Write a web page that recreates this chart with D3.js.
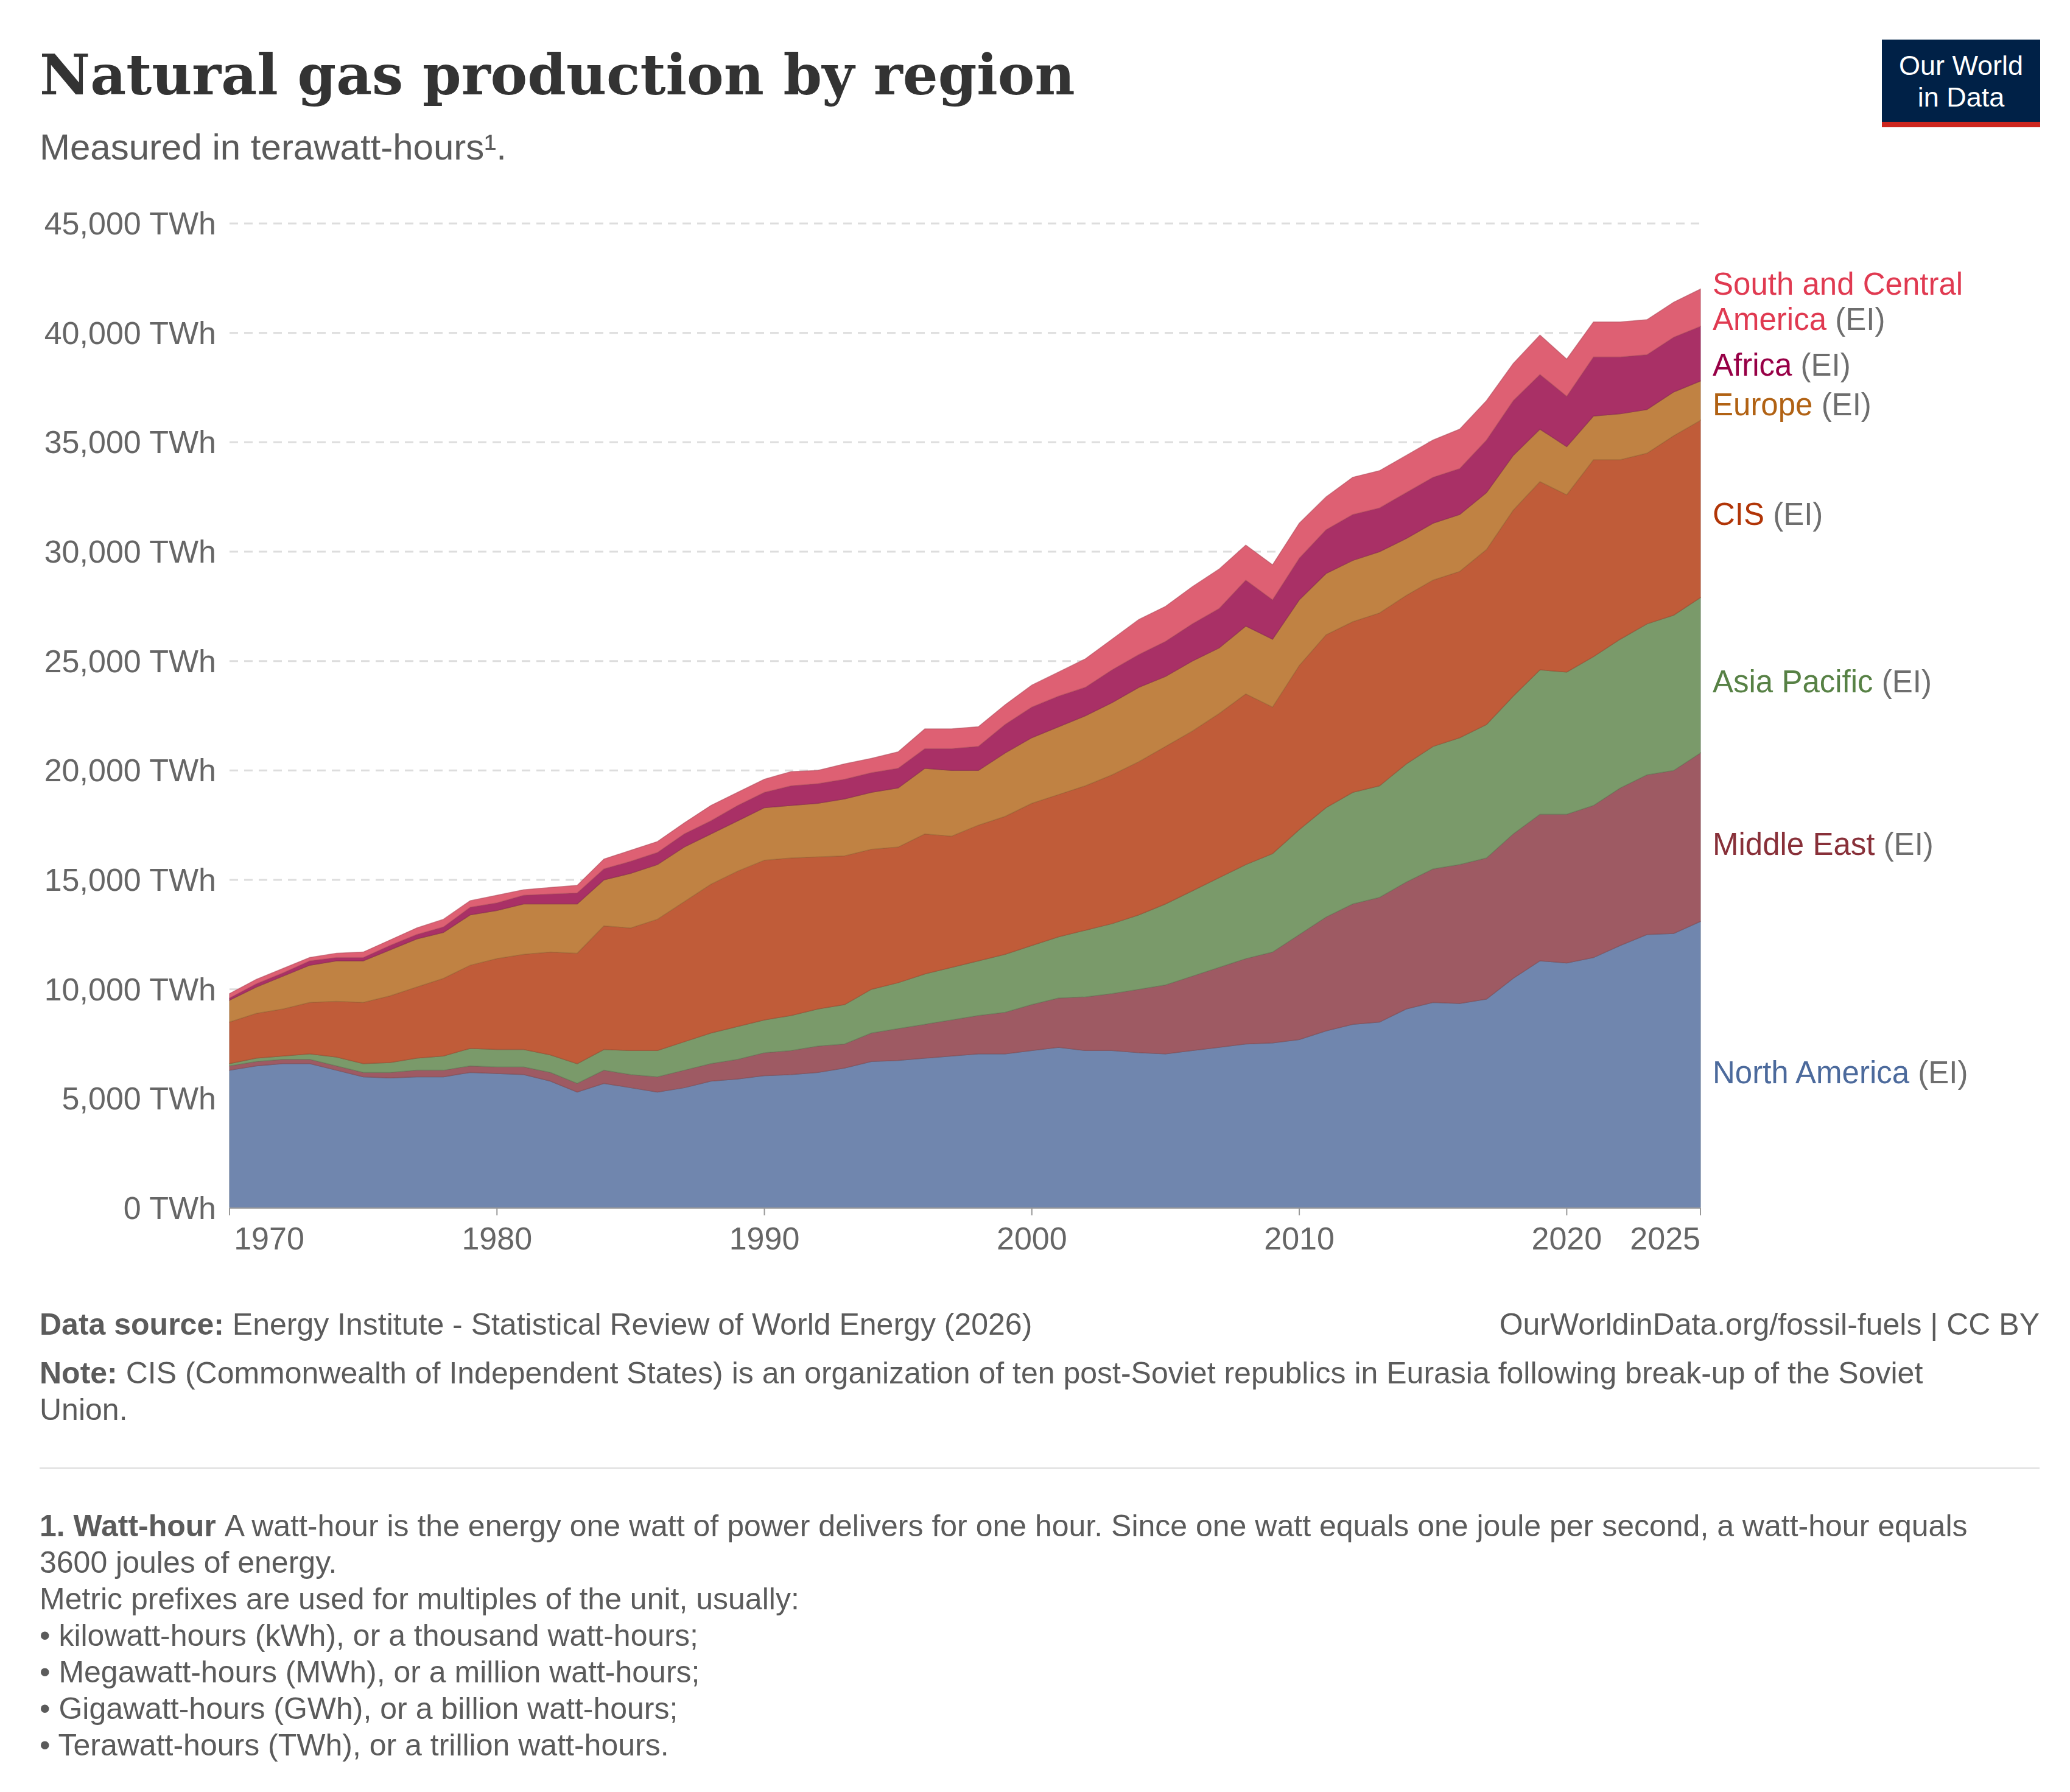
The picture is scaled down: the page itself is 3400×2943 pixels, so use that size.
<!DOCTYPE html>
<html><head><meta charset="utf-8">
<script src="https://cdn.jsdelivr.net/npm/d3@7"></script>
<style>body{margin:0;background:#fff}svg{display:block}</style>
</head><body>
<svg id="c" width="3400" height="2943"></svg>
<script>
const years = d3.range(1970, 2026);
// Upper edge of each stacked layer (thousand TWh)
const northAmericaTop = [6.3,6.5,6.6,6.6,6.3,6.0,5.95,6.0,6.0,6.2,6.15,6.1,5.8,5.3,5.7,5.5,5.3,5.5,5.8,5.9,6.05,6.1,6.2,6.4,6.7,6.75,6.85,6.95,7.05,7.05,7.2,7.35,7.2,7.2,7.1,7.05,7.2,7.35,7.5,7.55,7.7,8.1,8.4,8.5,9.1,9.4,9.35,9.55,10.5,11.3,11.2,11.45,12.0,12.5,12.55,13.1];
const middleEastTop = [6.5,6.7,6.8,6.8,6.5,6.2,6.2,6.3,6.3,6.5,6.45,6.45,6.2,5.7,6.3,6.1,6.0,6.3,6.6,6.8,7.1,7.2,7.4,7.5,8.0,8.2,8.4,8.6,8.8,8.95,9.3,9.6,9.65,9.8,10.0,10.2,10.6,11.0,11.4,11.7,12.5,13.3,13.9,14.2,14.9,15.5,15.7,16.0,17.1,18.0,18.0,18.4,19.2,19.8,20.0,20.8];
const asiaPacificTop = [6.6,6.85,6.95,7.05,6.9,6.6,6.65,6.85,6.95,7.3,7.25,7.25,7.0,6.6,7.25,7.2,7.2,7.6,8.0,8.3,8.6,8.8,9.1,9.3,10.0,10.3,10.7,11.0,11.3,11.6,12.0,12.4,12.7,13.0,13.4,13.9,14.5,15.1,15.7,16.2,17.3,18.3,19.0,19.3,20.3,21.1,21.5,22.1,23.4,24.6,24.5,25.2,26.0,26.7,27.1,27.9];
const cisTop = [8.5,8.9,9.1,9.4,9.45,9.4,9.7,10.1,10.5,11.1,11.4,11.6,11.7,11.65,12.9,12.8,13.2,14.0,14.8,15.4,15.9,16.0,16.05,16.1,16.4,16.5,17.1,17.0,17.5,17.9,18.5,18.9,19.3,19.8,20.4,21.1,21.8,22.6,23.5,22.9,24.8,26.2,26.8,27.2,28.0,28.7,29.1,30.1,31.9,33.2,32.6,34.2,34.2,34.5,35.3,36.0];
const europeTop = [9.5,10.1,10.6,11.1,11.3,11.3,11.8,12.3,12.6,13.4,13.6,13.9,13.9,13.9,15.0,15.3,15.7,16.5,17.1,17.7,18.3,18.4,18.5,18.7,19.0,19.2,20.1,20.0,20.0,20.8,21.5,22.0,22.5,23.1,23.8,24.3,25.0,25.6,26.6,26.0,27.8,29.0,29.6,30.0,30.6,31.3,31.7,32.7,34.4,35.6,34.8,36.2,36.3,36.5,37.3,37.8];
const africaTop = [9.6,10.25,10.75,11.3,11.45,11.45,12.0,12.5,12.85,13.75,13.95,14.3,14.35,14.4,15.5,15.85,16.25,17.1,17.7,18.4,19.0,19.3,19.4,19.6,19.9,20.1,21.0,21.0,21.1,22.1,22.9,23.4,23.8,24.6,25.3,25.9,26.7,27.4,28.7,27.8,29.7,31.0,31.7,32.0,32.7,33.4,33.8,35.1,36.9,38.1,37.1,38.9,38.9,39.0,39.8,40.3];
const southCentralAmericaTop = [9.8,10.45,10.95,11.45,11.65,11.7,12.25,12.8,13.2,14.05,14.3,14.55,14.65,14.75,15.95,16.35,16.75,17.6,18.4,19.0,19.6,19.95,20.0,20.3,20.55,20.85,21.9,21.9,22.0,23.0,23.9,24.5,25.1,26.0,26.9,27.5,28.4,29.2,30.3,29.4,31.3,32.5,33.4,33.7,34.4,35.1,35.6,36.9,38.6,39.9,38.8,40.5,40.5,40.6,41.4,42.0];
const seriesNames = ["North America","Middle East","Asia Pacific","CIS","Europe","Africa","South and Central America"];
const yTicks = [0,5000,10000,15000,20000,25000,30000,35000,40000,45000];
const xTicks = [1970,1980,1990,2000,2010,2020,2025];

const tops = [northAmericaTop,middleEastTop,asiaPacificTop,cisTop,europeTop,africaTop,southCentralAmericaTop];
const fills = ["#7086ae","#9e5a63","#7a9a6a","#c05c39","#c08243","#a93066","#de6073"];
const labelCols = ["#4c6a9c","#883039","#578145","#b13507","#b16214","#970046","#e03a51"];
const SANS = "Liberation Sans, Arial, sans-serif";

const svg = d3.select("#c");
const L=377, R=2793, T=367, B=1984;
const x = d3.scaleLinear().domain([1970,2025]).range([L,R]);
const y = d3.scaleLinear().domain([0,45000]).range([B,T]);

// header
svg.append("text").attr("x",65).attr("y",155).attr("font-family","DejaVu Serif, serif").attr("font-weight","bold").attr("font-size",91).attr("fill","#333").text("Natural gas production by region");
svg.append("text").attr("x",65).attr("y",262).attr("font-family",SANS).attr("font-size",60).attr("fill","#5b5b5b").text("Measured in terawatt-hours¹.");
svg.append("rect").attr("x",3091).attr("y",65).attr("width",260).attr("height",144).attr("fill","#002147");
svg.append("rect").attr("x",3091).attr("y",200).attr("width",260).attr("height",9).attr("fill","#ce261e");
svg.append("text").attr("x",3221).attr("y",123).attr("text-anchor","middle").attr("font-family",SANS).attr("font-size",45).attr("fill","#fff").text("Our World");
svg.append("text").attr("x",3221).attr("y",175).attr("text-anchor","middle").attr("font-family",SANS).attr("font-size",45).attr("fill","#fff").text("in Data");

// grid + y labels
yTicks.forEach(v=>{
  if(v>0) svg.append("line").attr("x1",L).attr("x2",R).attr("y1",y(v)).attr("y2",y(v)).attr("stroke","#ddd").attr("stroke-width",3).attr("stroke-dasharray","14,10");
  svg.append("text").attr("x",355).attr("y",y(v)+18).attr("text-anchor","end").attr("font-family",SANS).attr("font-size",52).attr("fill","#666").text(d3.format(",")(v)+" TWh");
});

// areas
const area = d3.area().x((d,i)=>x(years[i])).y0(d=>y(d[0]*1000)).y1(d=>y(d[1]*1000));
tops.forEach((t,k)=>{
  const data = t.map((v,i)=>[k===0?0:tops[k-1][i], v]);
  svg.append("path").datum(data).attr("d",area).attr("fill",fills[k]).attr("stroke",d3.color(fills[k]).darker(0.6)).attr("stroke-width",1.5).attr("stroke-opacity",0.6);
});

// x axis
svg.append("line").attr("x1",L).attr("x2",R).attr("y1",B).attr("y2",B).attr("stroke","#999").attr("stroke-width",2);
xTicks.forEach(t=>{
  svg.append("line").attr("x1",x(t)).attr("x2",x(t)).attr("y1",B).attr("y2",B+12).attr("stroke","#999").attr("stroke-width",2);
  svg.append("text").attr("x",t===1970?x(t)+65:x(t)).attr("y",B+68).attr("text-anchor",t===2025?"end":"middle").attr("font-family",SANS).attr("font-size",52).attr("fill","#666").text(t);
});

// right labels
const labelY = [[1762],[1387],[1120],[845],[665],[600],[467,525]];
const labelLines = [["North America"],["Middle East"],["Asia Pacific"],["CIS"],["Europe"],["Africa"],["South and Central","America"]];
labelLines.forEach((lines,k)=>{
  lines.forEach((ln,j)=>{
    const t = svg.append("text").attr("x",2813).attr("y",labelY[k][j]+17).attr("font-family",SANS).attr("font-size",51);
    t.append("tspan").attr("fill",labelCols[k]).text(ln);
    if(j===lines.length-1) t.append("tspan").attr("fill","#6e6e6e").text(" (EI)");
  });
});

// footer
const f = (xx,yy,parts,anchor)=>{const t=svg.append("text").attr("x",xx).attr("y",yy).attr("font-family",SANS).attr("font-size",50).attr("fill","#5b5b5b").attr("text-anchor",anchor||"start");parts.forEach(p=>t.append("tspan").attr("font-weight",p[1]?"bold":"normal").text(p[0]));};
f(65,2192,[["Data source: ",1],["Energy Institute - Statistical Review of World Energy (2026)"]]);
f(3350,2192,[["OurWorldinData.org/fossil-fuels | CC BY"]],"end");
f(65,2272,[["Note: ",1],["CIS (Commonwealth of Independent States) is an organization of ten post-Soviet republics in Eurasia following break-up of the Soviet"]]);
f(65,2332,[["Union."]]);
svg.append("line").attr("x1",65).attr("x2",3350).attr("y1",2411).attr("y2",2411).attr("stroke","#ddd").attr("stroke-width",2);
const notes=[[["1. Watt-hour ",1],["A watt-hour is the energy one watt of power delivers for one hour. Since one watt equals one joule per second, a watt-hour equals"]],[["3600 joules of energy."]],[["Metric prefixes are used for multiples of the unit, usually:"]],[["• kilowatt-hours (kWh), or a thousand watt-hours;"]],[["• Megawatt-hours (MWh), or a million watt-hours;"]],[["• Gigawatt-hours (GWh), or a billion watt-hours;"]],[["• Terawatt-hours (TWh), or a trillion watt-hours."]]];
notes.forEach((n,i)=>f(65,2523+i*60,n));
</script>
</body></html>
